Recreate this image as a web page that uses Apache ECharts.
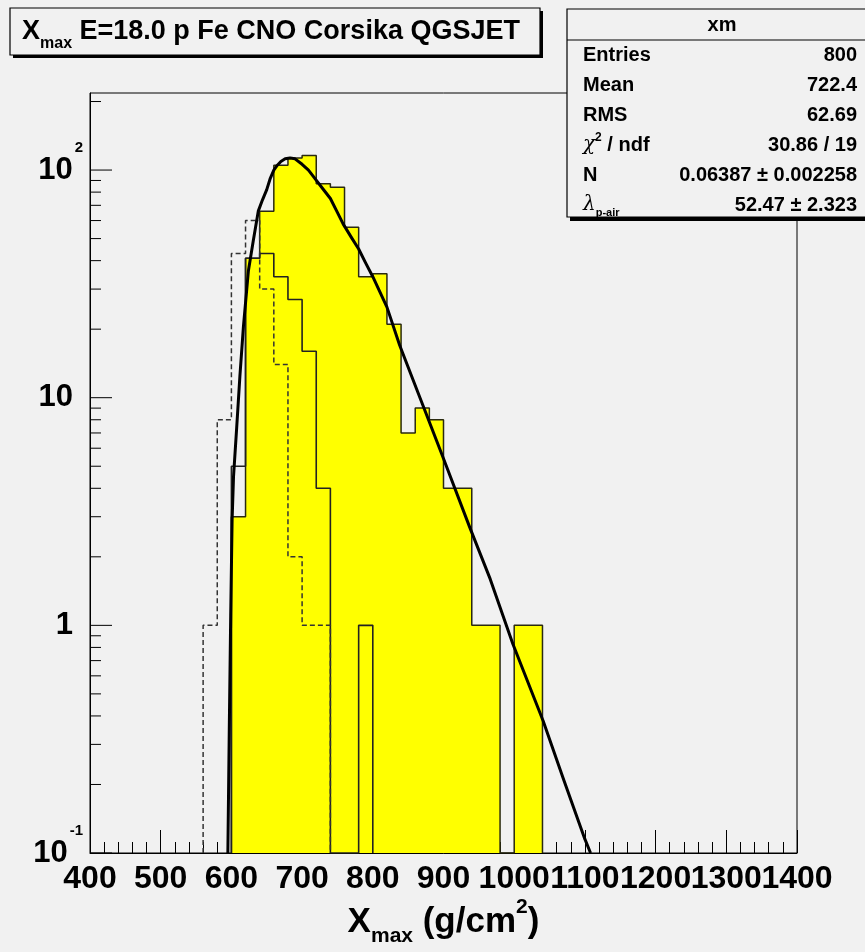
<!DOCTYPE html>
<html><head><meta charset="utf-8">
<script src="https://cdn.jsdelivr.net/npm/echarts@6/dist/echarts.min.js"></script>
<style>html,body{margin:0;padding:0;background:#f1f1f1}#c{width:865px;height:952px}</style>
</head><body><div id="c"></div>
<script>
// ---------------- data ----------------
const BIN_WIDTH = 20;
const Y_MIN = 0.1, Y_MAX = 218, X_MIN = 400, X_MAX = 1400;

// filled (yellow) histogram "xm", 800 entries
const yellowLow    = [600,620,640,660,680,700,720,740,760,780,800,820,840,860,880,900,920,940,960,980,1000,1020];
const yellowCounts = [3,  41, 66, 105,113,116,87, 84, 56, 34, 35, 21, 7,  9,  8,  4,  4,  1,  1,  0,  1,   1];

// solid-outline histogram
const solidLow    = [600,620,640,660,680,700,720,740,760,780];
const solidCounts = [5,  41, 43, 34, 27, 16, 4,  0,  0,  1];

// dashed-outline histogram
const dashedLow    = [560,580,600,620,640,660,680,700,720];
const dashedCounts = [1,  8,  43, 60, 30, 14, 2,  1,  1];

// fitted curve
const fitX = [595, 597, 599, 601, 603, 607.5, 612, 617, 624, 631, 638, 644, 650, 655, 660, 665, 670, 676, 683, 690, 700, 709, 718, 729, 740, 749, 758, 769, 780, 790, 800, 820, 838, 870, 899, 937, 966, 998, 1041, 1070, 1100, 1108];
const fitY = [0.1, 0.35,1.1, 2.9, 4.5, 7.4,   12.4,20.5,36,  49,  66,  74,  82,  92,  100, 105, 109, 112, 113, 112, 106, 100, 92,  83,  75,  66,  58,  51,  45,  39,  34,  25,  17,  9.4, 5.5, 2.7, 1.6, 0.83,0.38, 0.21, 0.115,0.1];

// axis ticks / labels
const xTickLabels = [400,500,600,700,800,900,1000,1100,1200,1300,1400];
const yMajorTicks = [0.1, 1, 10, 100];
const yMinorTicks = [0.2,0.3,0.4,0.5,0.6,0.7,0.8,0.9, 2,3,4,5,6,7,8,9, 20,30,40,50,60,70,80,90, 200];

// texts
const titleText = '{b|X}{sub|max}{b| E=18.0 p Fe CNO Corsika QGSJET}';
const statsName = 'xm';
const statLabels = ['Entries', 'Mean', 'RMS', '{g|χ}{sup|2}{b| / ndf}', 'N', '{g|λ}{sub|p-air}'];
const statValues = ['800', '722.4', '62.69', '30.86 / 19', '0.06387 ± 0.002258', '52.47 ± 2.323'];
const xAxisTitle = '{b|X}{sub|max}{b| (g/cm}{sup|2}{b|)}';

// ---------------- helpers ----------------
function outline(lows, counts) {
  const pts = [[lows[0], Y_MIN]];
  for (let i = 0; i < lows.length; i++) {
    const c = counts[i] > 0 ? counts[i] : Y_MIN;
    pts.push([lows[i], c], [lows[i] + BIN_WIDTH, c]);
  }
  pts.push([lows[lows.length - 1] + BIN_WIDTH, Y_MIN]);
  return pts;
}

const FONT = '"Liberation Sans", Arial, Helvetica, sans-serif';
const BG = '#f1f1f1';

const chart = echarts.init(document.getElementById('c'), null, {renderer: 'canvas'});

const yTickData = yMajorTicks.map(v => [X_MIN, v, 1]).concat(yMinorTicks.map(v => [X_MIN, v, 0]));

const option = {
  backgroundColor: BG,
  animation: false,
  grid: {left: 90, top: 93, right: 68, bottom: 99, show: true, borderColor: '#000', borderWidth: 1, backgroundColor: 'transparent'},
  xAxis: {
    type: 'value', min: X_MIN, max: X_MAX, interval: 100,
    axisLine: {show: true, lineStyle: {color: '#000', width: 1}},
    axisTick: {show: true, inside: true, length: 23, lineStyle: {color: '#000', width: 1}},
    minorTick: {show: true, splitNumber: 5, length: 11, lineStyle: {color: '#000', width: 1}},
    splitLine: {show: false},
    axisLabel: {show: false},
    name: xAxisTitle, nameLocation: 'middle', nameGap: 44,
    nameTextStyle: {
      color: '#000', fontFamily: FONT,
      rich: {
        b: {fontSize: 35, fontWeight: 'bold', fontFamily: FONT, color: '#000', lineHeight: 50},
        sub: {fontSize: 21, fontWeight: 'bold', fontFamily: FONT, color: '#000', lineHeight: 26, verticalAlign: 'bottom'},
        sup: {fontSize: 21, fontWeight: 'bold', fontFamily: FONT, color: '#000', lineHeight: 22, verticalAlign: 'top'}
      }
    }
  },
  yAxis: {
    type: 'log', logBase: 10, min: Y_MIN, max: Y_MAX,
    axisLine: {show: true, lineStyle: {color: '#000', width: 1}},
    axisTick: {show: false},
    splitLine: {show: false},
    axisLabel: {
      margin: 7, color: '#000', fontFamily: FONT,
      formatter: function (v) {
        const l = Math.log10(v), e = Math.round(l);
        if (Math.abs(l - e) > 1e-6) return '';
        if (e === 0) return '{n|1}{g|}';
        if (e === 1) return '{n|10}{g|}';
        return '{n|10}{s|' + e + '}';
      },
      rich: {
        n: {fontSize: 31, fontWeight: 'bold', fontFamily: FONT, color: '#000', lineHeight: 60},
        s: {fontSize: 15, fontWeight: 'bold', fontFamily: FONT, color: '#000', lineHeight: 24, verticalAlign: 'top', padding: [0, 0, 0, 2]},
        g: {width: 10}
      }
    }
  },
  series: [
    { // yellow filled histogram
      type: 'line', data: outline(yellowLow, yellowCounts), symbol: 'none', z: 2,
      lineStyle: {color: '#2a2a10', width: 1.5},
      areaStyle: {color: '#ffff00', opacity: 1, origin: 'start'}
    },
    { // solid histogram
      type: 'line', data: outline(solidLow, solidCounts), symbol: 'none', z: 3,
      lineStyle: {color: '#222', width: 1.6}
    },
    { // dashed histogram
      type: 'line', data: outline(dashedLow, dashedCounts), symbol: 'none', z: 3,
      lineStyle: {color: '#333', width: 1.5, type: [5, 3]}
    },
    { // fit
      type: 'line', data: fitX.map((x, i) => [x, fitY[i]]), symbol: 'none', z: 4,
      smooth: false,
      lineStyle: {color: '#000', width: 3, join: 'round'}
    },
    { // y axis ticks (log)
      type: 'custom', data: yTickData, z: 5, silent: true, clip: false,
      renderItem: function (params, api) {
        const p = api.coord([api.value(0), api.value(1)]);
        const len = api.value(2) ? 22 : 11;
        return {type: 'line', shape: {x1: p[0], y1: p[1], x2: p[0] + len, y2: p[1]}, style: {stroke: '#000', lineWidth: 1}};
      }
    },
    { // x axis labels (ROOT draws them even when they touch)
      type: 'custom', data: xTickLabels.map(v => [v, Y_MIN]), z: 5, silent: true, clip: false,
      renderItem: function (params, api) {
        const p = api.coord([api.value(0), api.value(1)]);
        return {type: 'text', x: p[0], y: p[1] + 10, style: {
          text: String(api.value(0)), align: 'center', verticalAlign: 'top',
          fontSize: 32, fontWeight: 'bold', fontFamily: FONT, fill: '#000'}};
      }
    }
  ],
  graphic: [
    // title box
    {type: 'rect', shape: {x: 13, y: 11, width: 530, height: 47}, style: {fill: '#000'}, z: 10},
    {type: 'rect', shape: {x: 10, y: 8, width: 530, height: 47}, style: {fill: BG, stroke: '#000', lineWidth: 1.2}, z: 11},
    {type: 'text', x: 22, y: 32, z: 12, style: {
      text: titleText, verticalAlign: 'middle', align: 'left', fill: '#000',
      rich: {
        b: {fontSize: 27, fontWeight: 'bold', fontFamily: FONT, lineHeight: 40},
        sub: {fontSize: 16, fontWeight: 'bold', fontFamily: FONT, lineHeight: 22, verticalAlign: 'bottom'}
      }}},
    // stats box
    {type: 'rect', shape: {x: 570, y: 12, width: 310, height: 209}, style: {fill: '#000'}, z: 10},
    {type: 'rect', shape: {x: 567, y: 9, width: 310, height: 208}, style: {fill: BG, stroke: '#000', lineWidth: 1.2}, z: 11},
    {type: 'line', shape: {x1: 567, y1: 40, x2: 877, y2: 40}, style: {stroke: '#000', lineWidth: 1.2}, z: 12},
    {type: 'text', x: 722, y: 25, z: 12, style: {text: statsName, align: 'center', verticalAlign: 'middle', fontSize: 20, fontWeight: 'bold', fontFamily: FONT, fill: '#000'}}
  ].concat(statLabels.map((t, i) => ({
    type: 'text', x: 583, y: 55 + i * 30, z: 12,
    style: {text: t, align: 'left', verticalAlign: 'middle', fill: '#000',
      rich: {
        b: {fontSize: 20, fontWeight: 'bold', fontFamily: FONT},
        g: {fontSize: 20, fontFamily: '"DejaVu Serif", serif', fontStyle: 'italic'},
        sup: {fontSize: 12, fontWeight: 'bold', fontFamily: FONT, verticalAlign: 'top', lineHeight: 14},
        sub: {fontSize: 11, fontWeight: 'bold', fontFamily: FONT, verticalAlign: 'bottom', lineHeight: 12}
      },
      fontSize: 20, fontWeight: 'bold', fontFamily: FONT, lineHeight: 26}
  }))).concat(statValues.map((t, i) => ({
    type: 'text', x: 857, y: 55 + i * 30, z: 12,
    style: {text: t, align: 'right', verticalAlign: 'middle', fill: '#000', fontSize: 20, fontWeight: 'bold', fontFamily: FONT}
  })))
};
chart.setOption(option);
</script></body></html>
